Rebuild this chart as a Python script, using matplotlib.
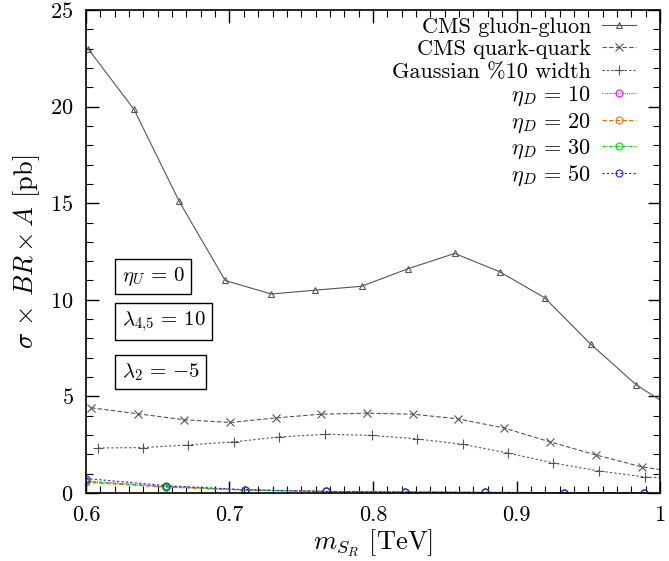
import numpy as np
import matplotlib
matplotlib.use('Agg')
import matplotlib.pyplot as plt
from matplotlib.ticker import MultipleLocator

plt.rcParams['font.family'] = 'cmr10'
plt.rcParams['mathtext.fontset'] = 'cm'
plt.rcParams['axes.formatter.use_mathtext'] = True

# CMS gluon-gluon limit
gg_x = [0.6014, 0.6335, 0.6649, 0.6970, 0.7291, 0.7599, 0.7920, 0.8241, 0.8569, 0.8883, 0.9197, 0.9518, 0.9834, 1.015]
gg_y = [23.0, 19.85, 15.1, 11.0, 10.3, 10.5, 10.7, 11.6, 12.4, 11.45, 10.1, 7.7, 5.6, 4.1]

# CMS quark-quark limit
qq_x = [0.6035, 0.6363, 0.6684, 0.7005, 0.7326, 0.7640, 0.7955, 0.8276, 0.8590, 0.8911, 0.9232, 0.9553, 0.9874, 1.019]
qq_y = [4.41, 4.10, 3.79, 3.65, 3.89, 4.08, 4.13, 4.08, 3.84, 3.37, 2.65, 1.97, 1.35, 1.0]

# Gaussian 10% width limit
ga_x = [0.6084, 0.6398, 0.6712, 0.7033, 0.7347, 0.7668, 0.7990, 0.8304, 0.8625, 0.8939, 0.9253, 0.9574, 0.9895, 1.021]
ga_y = [2.33, 2.35, 2.49, 2.65, 2.90, 3.04, 2.98, 2.80, 2.52, 2.07, 1.56, 1.14, 0.83, 0.70]

# eta_D curves
eta_x = [0.600, 0.656, 0.711, 0.767, 0.822, 0.878, 0.933, 0.989]
eta10 = [0.62, 0.33, 0.16, 0.08, 0.05, 0.03, 0.02, 0.02]
eta20 = [0.55, 0.30, 0.15, 0.08, 0.05, 0.03, 0.02, 0.02]
eta30 = [0.60, 0.33, 0.16, 0.08, 0.05, 0.03, 0.02, 0.02]
eta50 = [0.75, 0.38, 0.17, 0.08, 0.05, 0.03, 0.02, 0.02]

fig = plt.figure(figsize=(6.69, 5.61), dpi=100)
ax = fig.add_axes([86 / 669, 68 / 561, 574 / 669, 483 / 561])

gray = '#555555'
ax.plot(gg_x, gg_y, color=gray, lw=0.8, ls='-', marker='^', mfc='none', ms=5,
        mew=0.8, label='CMS gluon-gluon')
ax.plot(qq_x, qq_y, color=gray, lw=0.8, ls=(0, (4, 2)), marker='x', ms=6,
        mew=0.8, label='CMS quark-quark')
ax.plot(ga_x, ga_y, color=gray, lw=0.8, ls=(0, (2, 2)), marker='+', ms=7,
        mew=0.8, label='Gaussian %10 width')
ax.plot(eta_x, eta10, color='#ff00ff', lw=0.8, ls=(0, (1, 1)), marker='o', mfc='none',
        ms=5, mew=0.8, label=r'$\eta_D\,=\,10$')
ax.plot(eta_x, eta20, color='#ff6600', lw=0.8, ls=(0, (4, 2)), marker='o', mfc='none',
        ms=5, mew=0.8, label=r'$\eta_D\,=\,20$')
ax.plot(eta_x, eta30, color='#00dd00', lw=0.8, ls=(0, (3, 1, 1, 1)), marker='o', mfc='none',
        ms=5, mew=0.8, label=r'$\eta_D\,=\,30$')
ax.plot(eta_x, eta50, color='#2020ff', lw=0.8, ls=(0, (2, 2)), marker='o', mfc='none',
        ms=5, mew=0.8, label=r'$\eta_D\,=\,50$')

ax.set_xlim(0.6, 1.0)
ax.set_ylim(0, 25)
ax.xaxis.set_minor_locator(MultipleLocator(0.01))
ax.yaxis.set_major_locator(MultipleLocator(5))
ax.yaxis.set_minor_locator(MultipleLocator(1))
ax.set_xticks([0.6, 0.7, 0.8, 0.9, 1.0])
ax.set_xticklabels(['0.6', '0.7', '0.8', '0.9', '1'])
ax.tick_params(which='both', direction='in', top=True, right=True, labelsize=16)
ax.tick_params(axis='x', pad=9)
ax.tick_params(axis='y', pad=9)
ax.tick_params(which='major', length=9, width=1)
ax.tick_params(which='minor', length=5, width=0.8)
for s in ax.spines.values():
    s.set_linewidth(1.2)

ax.set_xlabel(r'$m_{S_R}$ [TeV]', fontsize=19, labelpad=2)
ax.set_ylabel(r'$\sigma$ $\times$ $BR\times A$ [pb]', fontsize=19, labelpad=6)

leg = ax.legend(loc='upper right', bbox_to_anchor=(1 - 22 / 574, 1 - 5 / 483),
                frameon=False, markerfirst=False, fontsize=16,
                handlelength=1.5, handletextpad=0.5, labelspacing=0.13,
                borderaxespad=0, borderpad=0.1)

box = dict(boxstyle='square,pad=0.3', fc='white', ec='black', lw=1)
ax.text(0.062, 0.448, r'$\eta_U\,=\,0$', transform=ax.transAxes, fontsize=15,
        va='center', ha='left', bbox=box)
ax.text(0.062, 0.355, r'$\lambda_{4{,}5}\,=\,10$', transform=ax.transAxes, fontsize=15,
        va='center', ha='left', bbox=box)
ax.text(0.062, 0.251, r'$\lambda_2\,=\,{-5}$', transform=ax.transAxes, fontsize=15,
        va='center', ha='left', bbox=box)

fig.savefig('out.png', dpi=100)
